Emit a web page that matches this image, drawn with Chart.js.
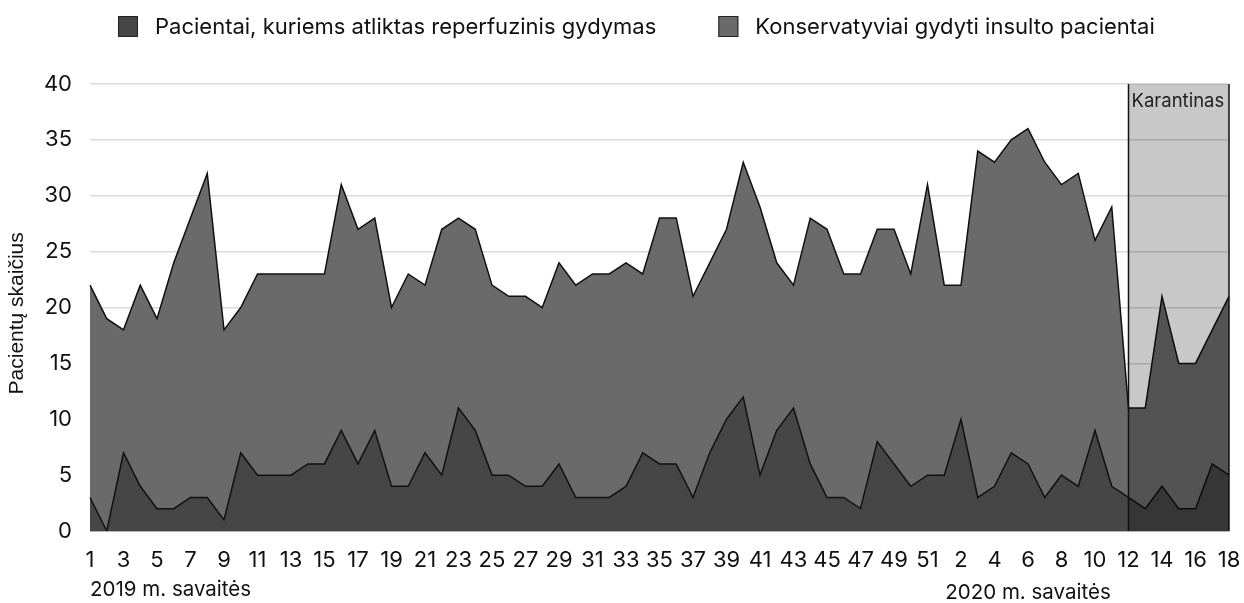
<!DOCTYPE html>
<html lang="lt">
<head>
<meta charset="utf-8">
<title>Insulto pacientai 2019–2020</title>
<script src="https://cdn.jsdelivr.net/npm/chart.js@4.4.1/dist/chart.umd.min.js"></script>
<style>
    html, body { margin: 0; padding: 0; background: #fff; }
    #wrap { width: 1244px; height: 603px; }
</style>
</head>
<body>
<div id="wrap"><canvas id="insultChart"></canvas></div>
<script>
// savaičių numeriai: 2019 m. 1–51, 2020 m. 1–18
const week_labels = [
    1, 2, 3, 4, 5, 6, 7, 8, 9, 10, 11, 12, 13, 14, 15, 16, 17, 18, 19, 20,
    21, 22, 23, 24, 25, 26, 27, 28, 29, 30, 31, 32, 33, 34, 35, 36, 37, 38, 39, 40,
    41, 42, 43, 44, 45, 46, 47, 48, 49, 50, 51,
    1, 2, 3, 4, 5, 6, 7, 8, 9, 10, 11, 12, 13, 14, 15, 16, 17, 18
];

const reperfusion_patients = [
    3, 0, 7, 4, 2, 2, 3, 3, 1, 7, 5, 5, 5, 6, 6, 9, 6, 9, 4, 4,
    7, 5, 11, 9, 5, 5, 4, 4, 6, 3, 3, 3, 4, 7, 6, 6, 3, 7, 10, 12,
    5, 9, 11, 6, 3, 3, 2, 8, 6, 4, 5,
    5, 10, 3, 4, 7, 6, 3, 5, 4, 9, 4, 3, 2, 4, 2, 2, 6, 5
];

const conservative_patients = [
    22, 19, 18, 22, 19, 24, 28, 32, 18, 20, 23, 23, 23, 23, 23, 31, 27, 28, 20, 23,
    22, 27, 28, 27, 22, 21, 21, 20, 24, 22, 23, 23, 24, 23, 28, 28, 21, 24, 27, 33,
    29, 24, 22, 28, 27, 23, 23, 27, 27, 23, 31,
    22, 22, 34, 33, 35, 36, 33, 31, 32, 26, 29, 11, 11, 21, 15, 15, 18, 21
];

const series_names = [
    "Pacientai, kuriems atliktas reperfuzinis gydymas",
    "Konservatyviai gydyti insulto pacientai"
];

// karantinas: 2020 m. 12–18 savaitė (indeksai masyve)
const quarantine_from = 62;
const quarantine_to = 68;
const year_labels = ["2019 m. savaitės", "2020 m. savaitės"];

const sansFamily = "Inter, 'Liberation Sans', Arial, sans-serif";
const tickFont = { family: sansFamily, size: 22 };
const yearFont = "20.5px " + sansFamily;
const noteFont = "18.5px " + sansFamily;

// eigene Legende, die Chart.js-Legende laesst sich nicht so weit links platzieren
const legendPlugin = {
    id: "customLegend",
    afterDraw(chart) {
        const ctx = chart.ctx;
        ctx.save();
        ctx.font = "22px " + sansFamily;
        ctx.textBaseline = "middle";
        let x = 118;
        chart.data.datasets.forEach(ds => {
            ctx.fillStyle = ds.backgroundColor;
            ctx.fillRect(x, 16, 20, 21);
            ctx.strokeStyle = "#222";
            ctx.lineWidth = 1;
            ctx.strokeRect(x + 0.5, 16.5, 19, 20);
            ctx.fillStyle = "#111";
            ctx.fillText(ds.label, x + 37, 27);
            x += 37 + ctx.measureText(ds.label).width + 62;
        });
        ctx.restore();
    }
};

const quarantinePlugin = {
    id: "quarantine",
    afterDatasetsDraw(chart) {
        const { ctx, scales } = chart;
        const x0 = scales.x.getPixelForValue(quarantine_from);
        const x1 = scales.x.getPixelForValue(quarantine_to);
        const top = scales.y.getPixelForValue(40);
        const bottom = scales.y.getPixelForValue(0);
        ctx.save();
        ctx.fillStyle = "rgba(0, 0, 0, 0.215)";
        ctx.fillRect(x0, top, x1 - x0, bottom - top);
        ctx.strokeStyle = "#111";
        ctx.lineWidth = 1.5;
        ctx.beginPath();
        ctx.moveTo(x0, top);
        ctx.lineTo(x0, bottom);
        ctx.moveTo(x1, top);
        ctx.lineTo(x1, bottom);
        ctx.stroke();
        ctx.font = noteFont;
        ctx.fillStyle = "#222";
        ctx.textBaseline = "middle";
        ctx.fillText("Karantinas", x0 + 3, top + 17);
        ctx.restore();
    },
    afterDraw(chart) {
        const { ctx, scales, chartArea } = chart;
        ctx.save();
        ctx.font = yearFont;
        ctx.fillStyle = "#111";
        ctx.textBaseline = "middle";
        ctx.textAlign = "left";
        ctx.fillText(year_labels[0], chartArea.left, 590);
        ctx.textAlign = "center";
        ctx.fillText(year_labels[1], scales.x.getPixelForValue(56), 593);
        ctx.restore();
    }
};

const config = {
    type: "line",
    data: {
        labels: week_labels,
        datasets: [
            {
                label: series_names[0],
                data: reperfusion_patients,
                backgroundColor: "#464646",
                borderColor: "#111",
                borderWidth: 1.5,
                fill: "origin",
                pointRadius: 0,
                tension: 0
            },
            {
                label: series_names[1],
                data: conservative_patients,
                backgroundColor: "#6a6a6a",
                borderColor: "#111",
                borderWidth: 1.5,
                fill: "origin",
                pointRadius: 0,
                tension: 0
            }
        ]
    },
    options: {
        responsive: true,
        maintainAspectRatio: false,
        animation: false,
        layout: { padding: { top: 84, right: 0, bottom: 0, left: 0 } },
        plugins: {
            legend: { display: false },
            tooltip: { enabled: false }
        },
        scales: {
            x: {
                grid: { display: false },
                border: { display: false },
                ticks: {
                    autoSkip: false,
                    maxRotation: 0,
                    font: tickFont,
                    color: "#111",
                    padding: 8,
                    callback: (val, i) => (i % 2 === 0 ? week_labels[i] : "")
                },
                afterFit: scale => {
                    scale.height = 72;
                    scale.paddingRight = 15;
                }
            },
            y: {
                min: 0,
                max: 40,
                ticks: { stepSize: 5, font: tickFont, color: "#111", padding: 18 },
                grid: {
                    drawTicks: false,
                    lineWidth: 1.5,
                    color: c => (c.tick.value === 0 ? "#666" : "#d9d9d9")
                },
                border: { display: false },
                title: {
                    display: true,
                    text: "Pacientų skaičius\u00a0\u00a0",
                    font: { family: "'Liberation Sans', Arial, sans-serif", size: 21 },
                    color: "#111",
                    padding: { top: 5, bottom: 0 }
                },
                afterFit: scale => { scale.width = 90; }
            }
        }
    },
    plugins: [quarantinePlugin, legendPlugin]
};

new Chart(document.querySelector("#insultChart"), config);
</script>
</body>
</html>
